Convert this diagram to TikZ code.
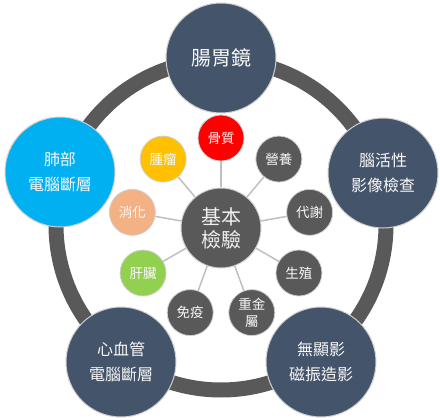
\documentclass[tikz,border=0pt]{standalone}
\usepackage{fontspec}
\newfontfamily\cjk{Noto Sans CJK TC}
\usetikzlibrary{calc}
\definecolor{navy}{HTML}{44546A}
\definecolor{ringgray}{HTML}{595959}
\definecolor{skyblue}{HTML}{00B0F0}
\definecolor{bonered}{HTML}{FF0000}
\definecolor{tumoryellow}{HTML}{FFC000}
\definecolor{tan}{HTML}{F4B183}
\definecolor{leafgreen}{HTML}{92D050}
\definecolor{spokegray}{HTML}{BFBFBF}
\definecolor{edgegray}{HTML}{D0D0D0}
\tikzset{
  bigc/.style={circle, fill=navy, draw=edgegray, line width=1pt, minimum size=110pt, inner sep=0pt,
    align=center, text=white!95!gray, font=\cjk\fontsize{16}{25}\selectfont},
  hubc/.style={circle, fill=ringgray, draw=edgegray, line width=1pt, minimum size=80pt, inner sep=0pt,
    align=center, text=white!88!gray, font=\cjk\fontsize{20}{23}\selectfont},
  satc/.style={circle, fill=ringgray, draw=edgegray, line width=0.8pt, minimum size=46pt, inner sep=0pt,
    align=center, text=white!95!gray, font=\cjk\fontsize{13.5}{17}\selectfont},
  ringline/.style={draw=ringgray, line width=15pt},
  spoke/.style={draw=spokegray, line width=1.5pt}
}
\begin{document}
\begin{tikzpicture}[x=1pt,y=-1pt]
\useasboundingbox (0,0) rectangle (440,420);
\draw[ringline] (221,225) circle[radius=165pt];
\node[bigc, font=\cjk\fontsize{20}{24}\selectfont] (top) at (221,58) {腸胃鏡};
\node[bigc, fill=skyblue] (lung) at (60,172) {肺部\\電腦斷層};
\node[bigc] (brain) at (383,173) {腦活性\\影像檢查};
\node[bigc] (heart) at (121,362) {心血管\\電腦斷層};
\node[bigc] (mri) at (321,362) {無顯影\\磁振造影};
\coordinate (hc) at (221,228);
\node[hubc] (hub) at (hc) {基本\\檢驗};
\node[satc, fill=bonered] (s1) at ($(hc)+(90:90pt)$) {骨質};
\node[satc] (s2) at ($(hc)+(50:90pt)$) {營養};
\node[satc] (s3) at ($(hc)+(10:90pt)$) {代謝};
\node[satc] (s4) at ($(hc)+(-30:90pt)$) {生殖};
\node[satc] (s5) at ($(hc)+(-70:90pt)$) {重金\\屬};
\node[satc] (s6) at ($(hc)+(-110:90pt)$) {免疫};
\node[satc, fill=leafgreen] (s7) at ($(hc)+(-150:90pt)$) {肝臟};
\node[satc, fill=tan] (s8) at ($(hc)+(170:90pt)$) {消化};
\node[satc, fill=tumoryellow] (s9) at ($(hc)+(130:90pt)$) {腫瘤};
\foreach \s in {s1,s2,s3,s4,s5,s6,s7,s8,s9}{\draw[spoke] (hub) -- (\s);}
\end{tikzpicture}
\end{document}
